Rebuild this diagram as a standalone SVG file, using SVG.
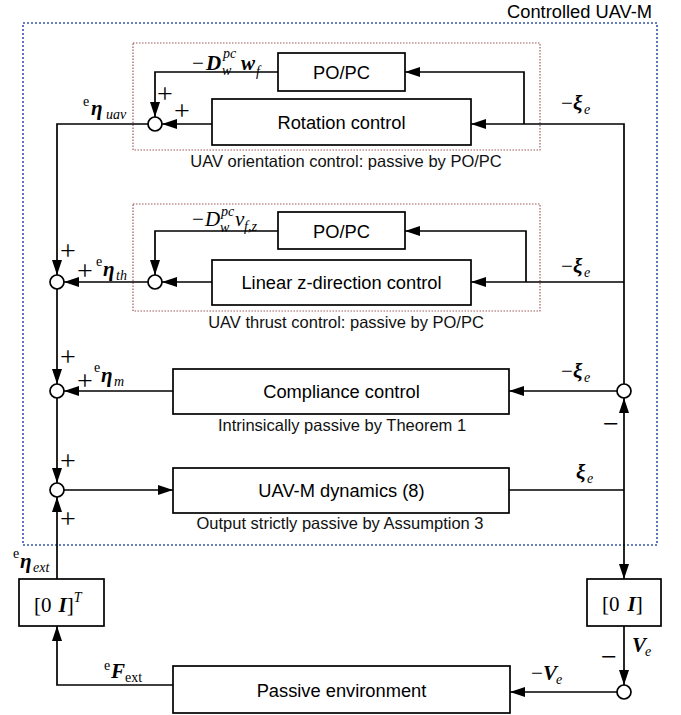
<svg xmlns="http://www.w3.org/2000/svg" width="681" height="715" viewBox="0 0 681 715">
<style>
.box{fill:#fff;stroke:#000;stroke-width:1.7}
.sum{fill:#fff;stroke:#000;stroke-width:1.7}
.ln{fill:none;stroke:#000;stroke-width:1.7}
.lab{font-family:"Liberation Sans",Arial,sans-serif;font-size:18.3px;fill:#000;text-anchor:middle}
.cap{font-family:"Liberation Sans",Arial,sans-serif;font-size:16.5px;fill:#111;text-anchor:middle}
.m{font-family:"Liberation Serif","Times New Roman",serif;font-size:21px;fill:#000}
.bi{font-weight:bold;font-style:italic}
.it{font-style:italic}
.s{font-size:14px}
.pm{font-family:"Liberation Serif","Times New Roman",serif;font-size:28px;fill:#000;text-anchor:middle}
</style>
<defs>
<marker id="ar" markerUnits="userSpaceOnUse" markerWidth="15" markerHeight="10" refX="15" refY="5" orient="auto">
<path d="M0,0 L15,5 L0,10 z" fill="#000"/>
</marker>
</defs>
<rect width="681" height="715" fill="#fff"/>

<g id="groups">
<rect x="23" y="23" width="634" height="522" fill="none" stroke="#3556a8" stroke-width="1.6" stroke-dasharray="2,2"/>
<text x="652" y="18" style="font-family:'Liberation Sans',Arial,sans-serif;font-size:18.3px;text-anchor:end">Controlled UAV-M</text>
<rect x="133" y="43" width="407" height="107" fill="none" stroke="#a05a5a" stroke-width="1.2" stroke-dasharray="1.5,1.5"/>
<text class="cap" x="346" y="167">UAV orientation control: passive by PO/PC</text>
<rect x="133" y="204" width="407" height="107" fill="none" stroke="#a05a5a" stroke-width="1.2" stroke-dasharray="1.5,1.5"/>
<text class="cap" x="346" y="328">UAV thrust control: passive by PO/PC</text>
</g>

<g id="connectors">
<path class="ln" d="M278,72 H155 V117" marker-end="url(#ar)"/>
<path class="ln" d="M212,124 H162" marker-end="url(#ar)"/>
<path class="ln" d="M148,124 H57 V275" marker-end="url(#ar)"/>
<path class="ln" d="M278,231 H155 V275" marker-end="url(#ar)"/>
<path class="ln" d="M212,282 H162" marker-end="url(#ar)"/>
<path class="ln" d="M148,282 H64" marker-end="url(#ar)"/>
<path class="ln" d="M57,289 V384" marker-end="url(#ar)"/>
<path class="ln" d="M173,391 H64" marker-end="url(#ar)"/>
<path class="ln" d="M57,398 V483" marker-end="url(#ar)"/>
<path class="ln" d="M64,490 H173" marker-end="url(#ar)"/>
<path class="ln" d="M57,579 V497" marker-end="url(#ar)"/>
<path class="ln" d="M173,685 H57 V626" marker-end="url(#ar)"/>
<path class="ln" d="M509,490 H624"/>
<path class="ln" d="M624,490 V579" marker-end="url(#ar)"/>
<path class="ln" d="M624,490 V398" marker-end="url(#ar)"/>
<path class="ln" d="M624,384 V124 H471" marker-end="url(#ar)"/>
<path class="ln" d="M524,124 V72 H405" marker-end="url(#ar)"/>
<path class="ln" d="M624,282 H471" marker-end="url(#ar)"/>
<path class="ln" d="M526,282 V231 H405" marker-end="url(#ar)"/>
<path class="ln" d="M617,391 H509" marker-end="url(#ar)"/>
<path class="ln" d="M624,626 V685" marker-end="url(#ar)"/>
<path class="ln" d="M617,692 H510" marker-end="url(#ar)"/>
</g>

<g id="popc1"><rect class="box" x="278" y="53" width="127" height="38"/><text class="lab" x="341.5" y="79">PO/PC</text></g>
<g id="rotation"><rect class="box" x="212" y="99" width="259" height="46"/><text class="lab" x="341.5" y="129">Rotation control</text></g>
<g id="popc2"><rect class="box" x="278" y="212" width="127" height="37"/><text class="lab" x="341.5" y="238">PO/PC</text></g>
<g id="linearz"><rect class="box" x="212" y="260" width="259" height="45"/><text class="lab" x="341.5" y="289">Linear z-direction control</text></g>
<g id="compliance"><rect class="box" x="173" y="369" width="336" height="45"/><text class="lab" x="341.5" y="398">Compliance control</text>
<text class="cap" x="342" y="431">Intrinsically passive by Theorem 1</text></g>
<g id="dynamics"><rect class="box" x="173" y="468" width="336" height="45"/><text class="lab" x="341.5" y="497">UAV-M dynamics (8)</text>
<text class="cap" x="340" y="529">Output strictly passive by Assumption 3</text></g>
<g id="proj-t"><rect class="box" x="19" y="579" width="85" height="47"/>
<text class="m" x="34" y="612" style="font-size:21px">[0<tspan class="bi" dx="7">I</tspan>]<tspan class="it" dy="-10" style="font-size:14px">T</tspan></text></g>
<g id="proj"><rect class="box" x="587" y="579" width="74" height="47"/>
<text class="m" x="602" y="611" style="font-size:21px">[0<tspan class="bi" dx="8">I</tspan>]</text></g>
<g id="environment"><rect class="box" x="173" y="666" width="337" height="47"/><text class="lab" x="341.5" y="697">Passive environment</text></g>

<g id="sums">
<circle class="sum" cx="155" cy="124" r="7"/>
<circle class="sum" cx="155" cy="282" r="7"/>
<circle class="sum" cx="57" cy="282" r="7"/>
<circle class="sum" cx="57" cy="391" r="7"/>
<circle class="sum" cx="57" cy="490" r="7"/>
<circle class="sum" cx="624" cy="391" r="7"/>
<circle class="sum" cx="624" cy="692" r="7"/>
</g>

<g id="signs">
<text class="pm" x="165" y="103">+</text>
<text class="pm" x="182" y="120">+</text>
<text class="pm" x="68" y="260">+</text>
<text class="pm" x="85" y="280">+</text>
<text class="pm" x="68" y="366">+</text>
<text class="pm" x="85" y="390">+</text>
<text class="pm" x="68" y="470">+</text>
<text class="pm" x="68" y="528">+</text>
<text class="pm" x="611" y="433">−</text>
<text class="pm" x="609" y="666">−</text>
</g>

<g id="labels">
<text class="m" x="192" y="70">−</text><text class="m bi" x="206" y="70">D</text>
<text class="m it s" x="223" y="58">pc</text><text class="m it s" x="222" y="75">w</text>
<text class="m bi" x="241" y="70">w</text><text class="m it s" x="256" y="76">f</text>

<text class="m" x="192" y="226">−</text><text class="m it" x="205" y="226">D</text>
<text class="m it s" x="221" y="216">pc</text><text class="m it s" x="220" y="232">w</text>
<text class="m it" x="235" y="226">v</text><text class="m it s" x="244" y="231">f,z</text>

<text class="m s" x="83" y="106">e</text><text class="m bi" x="91" y="115">η</text><text class="m it s" x="106" y="119">uav</text>
<text class="m s" x="96" y="266">e</text><text class="m bi" x="103" y="276">η</text><text class="m it s" x="116" y="280">th</text>
<text class="m s" x="94" y="372">e</text><text class="m bi" x="101" y="382">η</text><text class="m it s" x="114" y="386">m</text>
<text class="m s" x="13" y="558">e</text><text class="m bi" x="20" y="568">η</text><text class="m it s" x="33" y="572">ext</text>
<text class="m s" x="104" y="670">e</text><text class="m bi" x="111" y="678">F</text><text class="m s" x="125" y="682">ext</text>

<text class="m" x="561" y="110">−</text><text class="m bi" x="573" y="110">ξ</text><text class="m it s" x="584" y="114">e</text>
<text class="m" x="561" y="273">−</text><text class="m bi" x="573" y="273">ξ</text><text class="m it s" x="584" y="277">e</text>
<text class="m" x="561" y="378">−</text><text class="m bi" x="573" y="378">ξ</text><text class="m it s" x="584" y="382">e</text>
<text class="m bi" x="576" y="479">ξ</text><text class="m it s" x="587" y="483">e</text>
<text class="m bi" x="632" y="652">V</text><text class="m it s" x="645" y="656">e</text>
<text class="m" x="531" y="680">−</text><text class="m bi" x="543" y="680">V</text><text class="m it s" x="556" y="684">e</text>
</g>
</svg>
